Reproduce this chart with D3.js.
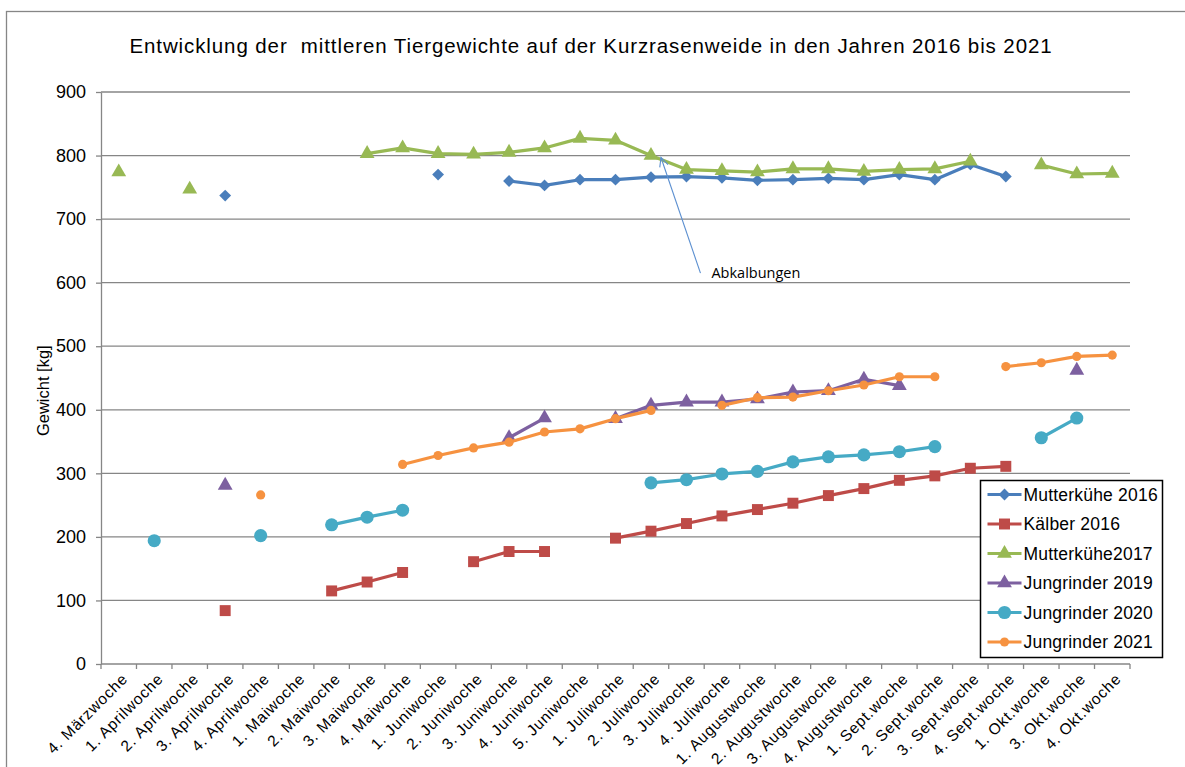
<!DOCTYPE html>
<html lang="de">
<head>
    <meta charset="utf-8">
    <title>Tiergewichte Kurzrasenweide</title>
    <script src="https://cdn.jsdelivr.net/npm/d3@7"></script>
</head>
<style>
    body { margin: 0; background: #fff; }
    svg { position: absolute; left: 0; top: 0; font-family: 'Liberation Sans', Arial, sans-serif; }
    .grid line { stroke: #868686; stroke-width: 1.3px; }
    .axis path, .axis line { stroke: #868686; stroke-width: 1.3px; }
    .axis text { fill: #000; }
</style>
<body>
<script type="text/javascript">

    var weeks = ['4. Märzwoche', '1. Aprilwoche', '2. Aprilwoche', '3. Aprilwoche', '4. Aprilwoche',
        '1. Maiwoche', '2. Maiwoche', '3. Maiwoche', '4. Maiwoche', '1. Juniwoche', '2. Juniwoche',
        '3. Juniwoche', '4. Juniwoche', '5. Juniwoche', '1. Juliwoche', '2. Juliwoche', '3. Juliwoche',
        '4. Juliwoche', '1. Augustwoche', '2. Augustwoche', '3. Augustwoche', '4. Augustwoche',
        '1. Sept.woche', '2. Sept.woche', '3. Sept.woche', '4. Sept.woche', '1. Okt.woche',
        '3. Okt.woche', '4. Okt.woche'];

    var mutterkuehe2016 = [null, null, null, 737, null, null, null, null, null, 770, null, 760, 753, 762,
        762, 766, 767, 765, 761, 762, 764, 762, 770, 762, 786, 767, null, null, null];
    var kaelber2016 = [null, null, null, 84, null, null, 115, 129, 144, null, 161, 177, 177, null,
        198, 209, 221, 233, 243, 253, 265, 276, 289, 296, 308, 311, null, null, null];
    var mutterkuehe2017 = [774, null, 747, null, null, null, null, 803, 812, 803, 802, 805, 812, 827,
        824, 800, 778, 776, 774, 779, 779, 775, 778, 779, 791, null, 785, 771, 772];
    var jungrinder2019 = [null, null, null, 281, null, null, null, null, null, null, null, 356, 387, null,
        386, 407, 412, 412, 417, 428, 430, 448, 438, null, null, null, null, 462, null];
    var jungrinder2020 = [null, 194, null, null, 202, null, 219, 231, 242, null, null, null, null, null,
        null, 285, 290, 299, 303, 318, 326, 329, 334, 342, null, null, 356, 387, null];
    var jungrinder2021 = [null, null, null, null, 266, null, null, null, 314, 328, 340, 349, 365, 370,
        386, 399, null, 407, 419, 420, 430, 439, 452, 452, null, 468, 474, 484, 486];

    var seriesNames = ['Mutterkühe 2016', 'Kälber 2016', 'Mutterkühe2017',
        'Jungrinder 2019', 'Jungrinder 2020', 'Jungrinder 2021'];
    var yTicks = [0, 100, 200, 300, 400, 500, 600, 700, 800, 900];

    var title = 'Entwicklung der  mittleren Tiergewichte auf der Kurzrasenweide in den Jahren 2016 bis 2021';

    var series = [
        {name: seriesNames[0], values: mutterkuehe2016, color: '#4A7EBB', symbol: 'diamond', size: 70},
        {name: seriesNames[1], values: kaelber2016, color: '#BE4B48', symbol: 'square', size: 120},
        {name: seriesNames[2], values: mutterkuehe2017, color: '#98B954', symbol: 'triangle', size: 95},
        {name: seriesNames[3], values: jungrinder2019, color: '#7D60A0', symbol: 'triangle', size: 95},
        {name: seriesNames[4], values: jungrinder2020, color: '#46AAC5', symbol: 'circle', size: 135},
        {name: seriesNames[5], values: jungrinder2021, color: '#F69240', symbol: 'circle', size: 66}
    ];

    var width = 1185, height = 767;
    var plot = {left: 101, right: 1130, top: 92, bottom: 664};

    var svg = d3.select('body').append('svg')
        .attr('width', width)
        .attr('height', height);

    // outer chart frame
    svg.append('rect')
        .attr('x', 6.5).attr('y', 11.5)
        .attr('width', width + 20).attr('height', height + 20)
        .style('fill', 'none')
        .style('stroke', '#868686')
        .style('stroke-width', 1.3);

    var xScale = d3.scaleBand()
        .domain(weeks)
        .range([plot.left, plot.right]);
    var xc = function(w) { return xScale(w) + xScale.bandwidth() / 2; };

    var yScale = d3.scaleLinear()
        .domain([0, 900])
        .range([plot.bottom, plot.top]);

    // gridlines
    svg.append('g')
        .attr('class', 'grid')
        .selectAll('line')
        .data(yTicks.filter(function(d) { return d > 0; }))
        .enter()
        .append('line')
        .attr('x1', plot.left).attr('x2', plot.right)
        .attr('y1', function(d) { return yScale(d); })
        .attr('y2', function(d) { return yScale(d); });

    // y axis
    var yAxis = d3.axisLeft(yScale)
        .tickValues(yTicks)
        .tickSize(5)
        .tickPadding(10)
        .tickSizeOuter(0);
    var gy = svg.append('g')
        .attr('class', 'axis')
        .attr('transform', 'translate(' + plot.left + ',0)')
        .call(yAxis);
    gy.selectAll('text').style('font-size', '18px');

    // x axis: ticks between categories
    var bounds = weeks.map(function(w) { return xScale(w); }).concat([plot.right]);
    var gx = svg.append('g').attr('class', 'axis');
    gx.append('line')
        .attr('x1', plot.left).attr('x2', plot.right)
        .attr('y1', plot.bottom).attr('y2', plot.bottom);
    gx.selectAll('line.tick')
        .data(bounds)
        .enter()
        .append('line')
        .attr('class', 'tick')
        .attr('x1', function(d) { return d; }).attr('x2', function(d) { return d; })
        .attr('y1', plot.bottom).attr('y2', plot.bottom + 5);
    gx.selectAll('text')
        .data(weeks)
        .enter()
        .append('text')
        .attr('transform', function(d) {
            return 'translate(' + (xc(d) + 6) + ',' + (plot.bottom + 12) + ') rotate(-45)';
        })
        .attr('text-anchor', 'end')
        .attr('dy', '0.35em')
        .style('font-size', '15.5px')
        .style('letter-spacing', '0.8px')
        .text(function(d) { return d; });

    // axis title
    svg.append('text')
        .attr('transform', 'translate(49,' + yScale(430) + ') rotate(-90)')
        .attr('text-anchor', 'middle')
        .style('font-size', '16.5px')
        .text('Gewicht [kg]');

    // chart title
    svg.append('text')
        .attr('x', 591)
        .attr('y', 53)
        .attr('text-anchor', 'middle')
        .style('font-size', '20.5px')
        .style('letter-spacing', '0.9px')
        .style('white-space', 'pre')
        .attr('xml:space', 'preserve')
        .text(title);

    var symbolType = {
        diamond: d3.symbolSquare,
        square: d3.symbolSquare,
        triangle: d3.symbolTriangle,
        circle: d3.symbolCircle
    };
    function symbolPath(s) {
        return d3.symbol().type(symbolType[s.symbol]).size(s.size)();
    }
    function symbolRotate(s) {
        return s.symbol === 'diamond' ? ' rotate(45)' : '';
    }

    var line = d3.line()
        .defined(function(d) { return d.v !== null; })
        .x(function(d) { return xc(d.w); })
        .y(function(d) { return yScale(d.v); });

    series.forEach(function(s) {
        var pts = s.values.map(function(v, i) { return {w: weeks[i], v: v}; });
        var g = svg.append('g');
        g.append('path')
            .datum(pts)
            .attr('d', line)
            .attr('fill', 'none')
            .attr('stroke', s.color)
            .attr('stroke-width', 3.2)
            .attr('stroke-linejoin', 'round');
        g.selectAll('path.pt')
            .data(pts.filter(function(d) { return d.v !== null; }))
            .enter()
            .append('path')
            .attr('class', 'pt')
            .attr('d', symbolPath(s))
            .attr('transform', function(d) {
                return 'translate(' + xc(d.w) + ',' + yScale(d.v) + ')' + symbolRotate(s);
            })
            .attr('fill', s.color);
    });

    // annotation arrow
    var tip = [xc(weeks[15]) + 10, yScale(797)];
    var tail = [xc(weeks[16]) + 14, yScale(615)];
    var ang = Math.atan2(tail[1] - tip[1], tail[0] - tip[0]);
    var ah = 10, spread = 0.45;
    var ann = svg.append('g')
        .style('stroke', '#5B8FD0')
        .style('stroke-width', 1.1)
        .style('fill', 'none');
    ann.append('line')
        .attr('x1', tail[0]).attr('y1', tail[1])
        .attr('x2', tip[0]).attr('y2', tip[1]);
    ann.append('path')
        .attr('d', 'M' + (tip[0] + ah * Math.cos(ang - spread)) + ',' + (tip[1] + ah * Math.sin(ang - spread)) +
            'L' + tip[0] + ',' + tip[1] +
            'L' + (tip[0] + ah * Math.cos(ang + spread)) + ',' + (tip[1] + ah * Math.sin(ang + spread)));
    svg.append('text')
        .attr('x', xc(weeks[16]) + 25)
        .attr('y', yScale(607))
        .style('font-family', "'Open Sans', sans-serif")
        .style('font-size', '14.5px')
        .text('Abkalbungen');

    // legend
    var lg = svg.append('g').attr('transform', 'translate(980.5,480.5)');
    lg.append('rect')
        .attr('width', 182).attr('height', 177)
        .style('fill', '#fff')
        .style('stroke', '#000')
        .style('stroke-width', 1.5);
    var items = lg.selectAll('g.item')
        .data(series)
        .enter()
        .append('g')
        .attr('class', 'item')
        .attr('transform', function(d, i) { return 'translate(0,' + (14 + i * 29.5) + ')'; });
    items.append('line')
        .attr('x1', 7).attr('x2', 41)
        .attr('stroke', function(d) { return d.color; })
        .attr('stroke-width', 3.2);
    items.append('path')
        .attr('d', function(d) { return symbolPath(d); })
        .attr('transform', function(d) { return 'translate(24,0)' + symbolRotate(d); })
        .attr('fill', function(d) { return d.color; });
    items.append('text')
        .attr('x', 43)
        .attr('dy', '0.35em')
        .style('font-size', '17.5px')
        .style('letter-spacing', '0.2px')
        .text(function(d) { return d.name; });

</script>
</body>
</html>
